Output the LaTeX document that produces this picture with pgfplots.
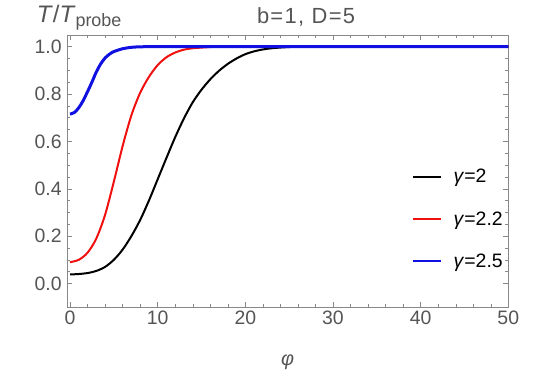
\documentclass[border=0pt]{standalone}
\usepackage{fontspec}
\setmainfont{Liberation Sans}
\usepackage{pgfplots}
\pgfplotsset{compat=1.18}
\definecolor{labgray}{HTML}{555555}
\definecolor{framegray}{HTML}{888888}
\definecolor{mred}{HTML}{F01010}
\definecolor{mblue}{HTML}{1010E0}

\begin{document}
\begin{tikzpicture}
\begin{axis}[
  scale only axis, width=441.6bp, height=271.7bp,
  xmin=-0.38, xmax=50, ymin=-0.098, ymax=1.049,
  xtick={0,10,...,50}, ytick={0,0.2,...,1.0},
  minor x tick num=4, minor y tick num=3,
  /pgf/number format/assume math mode=true,
  tick align=inside, major tick length=5bp, minor tick length=3bp,
  axis line style={framegray}, every tick/.style={framegray},
  tick label style={font=\fontsize{19.5}{21}\selectfont, text=labgray},
  yticklabel style={xshift=-1.5bp, /pgf/number format/.cd, fixed, fixed zerofill, precision=1},
  xticklabel style={yshift=-1bp},
  legend style={draw=none, fill=none, inner sep=0pt, at={(0.782,0.3228)}, anchor=west,
    font=\fontsize{19.5}{21}\selectfont, row sep=27bp,
    nodes={inner sep=0pt},
    /tikz/every odd column/.append style={column sep=12bp}},
  legend cell align=left,
  legend image code/.code={\draw[#1, line width=1.5bp] (0bp,0bp) -- (28bp,0bp);},
  clip=false,
]
\addplot[black, line width=2bp, smooth] coordinates {
(0,0.038) (1,0.04) (2,0.044) (3,0.053) (4,0.07) (5,0.1) (6,0.143) (7,0.2)
(8,0.268) (9,0.35) (10,0.44) (11,0.53) (12,0.618) (13,0.697) (14,0.765)
(15,0.818) (16,0.862) (17,0.898) (18,0.927) (19,0.95) (20,0.968) (21,0.98)
(22,0.988) (23,0.993) (24,0.996) (25,0.998) (27,1.0) (40,1.0) (50,1.0)};
\addlegendentry{\textit{γ}=2}
\addplot[mred, line width=2bp, smooth] coordinates {
(0,0.09) (1,0.1) (2,0.13) (3,0.19) (4,0.29) (5,0.43) (6,0.58) (7,0.71)
(8,0.805) (9,0.872) (10,0.922) (11,0.955) (12,0.975) (13,0.987) (14,0.993)
(16,0.998) (18,1.0) (30,1.0) (50,1.0)};
\addlegendentry{\textit{γ}=2.2}
\addplot[mblue, line width=3bp, smooth] coordinates {
(0,0.715) (0.5,0.722) (1,0.742) (1.5,0.772) (2,0.81) (2.5,0.85) (3,0.893)
(3.5,0.927) (4,0.952) (4.5,0.968) (5,0.979) (6,0.991) (7,0.997) (8,0.999)
(10,1.0) (20,1.0) (50,1.0)};
\addlegendentry{\textit{γ}=2.5}
\node[anchor=base, text=labgray, inner sep=0pt,
  font=\fontsize{22}{24}\selectfont\addfontfeature{LetterSpace=6}]
  at (rel axis cs:0.542,1.043) {b=1, D=5};
\node[anchor=base west, text=labgray, inner sep=0pt]
  at (rel axis cs:-0.068,1.045)
  {{\fontsize{24}{26}\selectfont\textit{T}/\textit{T}}\raisebox{-3.3bp}{\fontsize{18}{20}\selectfont probe}};
\node[anchor=base, text=labgray, inner sep=0pt, font=\fontsize{20}{22}\selectfont]
  at (rel axis cs:0.5,-0.2146) {\textit{φ}};
\end{axis}
\path (current axis.south west) ++(-66.7bp,-65.3bp) rectangle ++(540bp,372bp);
\end{tikzpicture}
\end{document}
